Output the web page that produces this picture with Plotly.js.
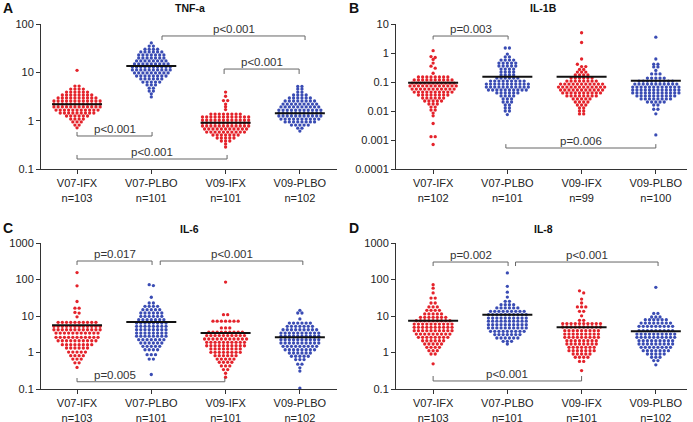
<!DOCTYPE html>
<html><head><meta charset="utf-8">
<script src="https://cdn.plot.ly/plotly-3.0.1.min.js"></script>
<style>html,body{margin:0;padding:0;background:#fff}#chart{width:693px;height:422px}</style>
</head><body><div id="chart"></div>
<script>
// ---------- categories and labels ----------
const groups = ['V07-IFX','V07-PLBO','V09-IFX','V09-PLBO'];
const nTNF = [103,101,101,102];
const nIL1B = [102,101,99,100];
const nIL6 = [103,101,101,102];
const nIL8 = [103,101,101,102];

// ---------- TNF-a values ----------
const tnfV07IFX = [11,
5.2,5.2, 4.5,4.5,4.5,4.5, 3.9,3.9,3.9,3.9,3.9,3.9,
3.4,3.4,3.4,3.4,3.4,3.4,3.4,3.4,
2.95,2.95,2.95,2.95,2.95,2.95,2.95,2.95,2.95,2.95,
2.55,2.55,2.55,2.55,2.55,2.55,2.55,2.55,2.55,2.55,2.55,2.55,
2.2,2.2,2.2,2.2,2.2,2.2,2.2,2.2,2.2,2.2,2.2,2.2,
1.92,1.92,1.92,1.92,1.92,1.92,1.92,1.92,1.92,1.92,1.92,1.92,
1.66,1.66,1.66,1.66,1.66,1.66,1.66,1.66,1.66,1.66,1.66,
1.44,1.44,1.44,1.44,1.44,1.44,1.44,1.44,1.44,
1.25,1.25,1.25,1.25,1.25,1.25, 1.08,1.08,1.08,1.08, 0.94,0.94,0.94, 0.81,0.81, 0.71];
const tnfV07PLBO = [40.5, 35,35, 30,30,30,30, 26.4,26.4,26.4,26.4,26.4,26.4,
22.9,22.9,22.9,22.9,22.9,22.9,22.9, 19.8,19.8,19.8,19.8,19.8,19.8,19.8,
17.2,17.2,17.2,17.2,17.2,17.2,17.2,17.2, 14.9,14.9,14.9,14.9,14.9,14.9,14.9,14.9,14.9,
12.9,12.9,12.9,12.9,12.9,12.9,12.9,12.9,12.9,12.9, 11.2,11.2,11.2,11.2,11.2,11.2,11.2,11.2,11.2,11.2,
9.7,9.7,9.7,9.7,9.7,9.7,9.7,9.7,9.7, 8.4,8.4,8.4,8.4,8.4,8.4,8.4,8.4,
7.3,7.3,7.3,7.3,7.3,7.3, 6.3,6.3,6.3,6.3,6.3, 5.5,5.5,5.5, 4.7,4.7, 4.1,4.1, 3.6, 3.1];
const tnfV09IFX = [3.9, 3.2, 2.6,2.6, 2.2, 1.95, 1.7,
1.37,1.37,1.37,1.37,1.37,1.37,1.37,1.37,
1.19,1.19,1.19,1.19,1.19,1.19,1.19,1.19,1.19,1.19,1.19,1.19,
1.03,1.03,1.03,1.03,1.03,1.03,1.03,1.03,1.03,1.03,1.03,1.03,
0.895,0.895,0.895,0.895,0.895,0.895,0.895,0.895,0.895,0.895,0.895,0.895,
0.776,0.776,0.776,0.776,0.776,0.776,0.776,0.776,0.776,0.776,0.776,0.776,
0.672,0.672,0.672,0.672,0.672,0.672,0.672,0.672,0.672,0.672,0.672,
0.582,0.582,0.582,0.582,0.582,0.582,0.582,0.582,0.582,0.582,
0.505,0.505,0.505,0.505,0.505,0.505,0.505, 0.438,0.438,0.438,0.438,0.438, 0.38,0.38,0.38, 0.33, 0.285];
const tnfV09PLBO = [5.1,5.1, 4.5,4.5, 3.9,3.9, 3.4,3.4,3.4,3.4, 2.95,2.95,2.95,2.95,2.95,2.95,
2.55,2.55,2.55,2.55,2.55,2.55,2.55,2.55, 2.2,2.2,2.2,2.2,2.2,2.2,2.2,2.2,2.2,
1.92,1.92,1.92,1.92,1.92,1.92,1.92,1.92,1.92,1.92,
1.66,1.66,1.66,1.66,1.66,1.66,1.66,1.66,1.66,1.66,1.66,
1.44,1.44,1.44,1.44,1.44,1.44,1.44,1.44,1.44,1.44,1.44,
1.25,1.25,1.25,1.25,1.25,1.25,1.25,1.25,1.25,1.25,1.25,
1.08,1.08,1.08,1.08,1.08,1.08,1.08,1.08,1.08,1.08,
0.94,0.94,0.94,0.94,0.94,0.94,0.94,0.94, 0.81,0.81,0.81,0.81,0.81, 0.70,0.70, 0.61];
const tnfMeans = [2.18, 13.5, 0.91, 1.42];

// ---------- IL-1B values ----------
const il1bV07IFX = [1.2, 0.75, 0.7, 0.6, 0.45, 0.35, 0.3, 0.2,
0.149,0.149,0.149,0.149,0.149,0.149,0.149,0.149,
0.117,0.117,0.117,0.117,0.117,0.117,0.117,0.117,0.117,0.117,
0.092,0.092,0.092,0.092,0.092,0.092,0.092,0.092,0.092,0.092,0.092,
0.073,0.073,0.073,0.073,0.073,0.073,0.073,0.073,0.073,0.073,0.073,0.073,
0.057,0.057,0.057,0.057,0.057,0.057,0.057,0.057,0.057,0.057,0.057,
0.045,0.045,0.045,0.045,0.045,0.045,0.045,0.045,0.045,0.045,
0.0356,0.0356,0.0356,0.0356,0.0356,0.0356,0.0356,0.0356,
0.028,0.028,0.028,0.028,0.028,0.028, 0.0221,0.0221,0.0221,0.0221,0.0221,
0.0174,0.0174,0.0174, 0.0137,0.0137, 0.0108,0.0108, 0.0085,
0.0068, 0.0037, 0.0013,0.0013, 0.0007];
const il1bV07PLBO = [1.49,1.49, 0.92, 0.73,0.73, 0.57,0.57,0.57,0.57, 0.45,0.45,0.45,0.45,0.45,
0.356,0.356,0.356,0.356,0.356, 0.28,0.28,0.28,0.28, 0.221,0.221,0.221,0.221, 0.174,0.174,0.174,0.174,
0.137,0.137,0.137,0.137,0.137,0.137, 0.108,0.108,0.108,0.108,0.108,0.108,0.108,0.108,0.108,
0.085,0.085,0.085,0.085,0.085,0.085,0.085,0.085,0.085,0.085,0.085,
0.067,0.067,0.067,0.067,0.067,0.067,0.067,0.067,0.067,0.067,0.067,
0.053,0.053,0.053,0.053,0.053,0.053,0.053,0.053,0.053,0.053,
0.042,0.042,0.042,0.042,0.042,0.042, 0.033,0.033,0.033,0.033, 0.026,0.026,0.026,
0.0204,0.0204,0.0204, 0.0161,0.0161, 0.0127,0.0127, 0.010,0.010, 0.0075];
const il1bV09IFX = [5.0, 2.3, 0.62, 0.41, 0.34,0.34, 0.27,0.27, 0.22,0.22,0.22, 0.174,0.174,0.174,0.174,
0.137,0.137,0.137,0.137,0.137,0.137, 0.108,0.108,0.108,0.108,0.108,0.108,0.108,0.108,
0.085,0.085,0.085,0.085,0.085,0.085,0.085,0.085,0.085,0.085,0.085,
0.067,0.067,0.067,0.067,0.067,0.067,0.067,0.067,0.067,0.067,0.067,0.067,
0.053,0.053,0.053,0.053,0.053,0.053,0.053,0.053,0.053,0.053,0.053,
0.042,0.042,0.042,0.042,0.042,0.042,0.042,0.042,0.042,0.042,
0.033,0.033,0.033,0.033,0.033,0.033,0.033,0.033, 0.026,0.026,0.026,0.026,0.026,
0.0204,0.0204,0.0204,0.0204, 0.0161,0.0161,0.0161, 0.0127,0.0127, 0.010,0.010, 0.0079,0.0079];
const il1bV09PLBO = [3.5, 0.62, 0.41,0.41, 0.33,0.33, 0.25, 0.19,0.19,0.19,
0.137,0.137,0.137,0.137,0.137, 0.108,0.108,0.108,0.108,0.108,0.108,0.108,0.108,0.108,
0.085,0.085,0.085,0.085,0.085,0.085,0.085,0.085,0.085,0.085,0.085,
0.067,0.067,0.067,0.067,0.067,0.067,0.067,0.067,0.067,0.067,0.067,0.067,
0.053,0.053,0.053,0.053,0.053,0.053,0.053,0.053,0.053,0.053,0.053,0.053,
0.042,0.042,0.042,0.042,0.042,0.042,0.042,0.042,0.042,0.042,0.042,0.042,
0.033,0.033,0.033,0.033,0.033,0.033,0.033,0.033,0.033,0.033,
0.026,0.026,0.026,0.026,0.026,0.026,0.026,0.026, 0.0204,0.0204,0.0204,0.0204,0.0204,
0.0161,0.0161, 0.0115,0.0115, 0.008, 0.0015];
const il1bMeans = [0.095, 0.153, 0.153, 0.111];

// ---------- IL-6 values ----------
const il6V07IFX = [155, 67, 25, 16.4,16.4, 12.5, 12, 9.5,
6.7,6.7,6.7,6.7,6.7,6.7,6.7,6.7,6.7,6.7,
5.2,5.2,5.2,5.2,5.2,5.2,5.2,5.2,5.2,5.2,5.2,5.2,
4.2,4.2,4.2,4.2,4.2,4.2,4.2,4.2,4.2,4.2,4.2,4.2,
3.4,3.4,3.4,3.4,3.4,3.4,3.4,3.4,3.4,3.4,3.4,
2.6,2.6,2.6,2.6,2.6,2.6,2.6,2.6,2.6,2.6,2.6,
2.1,2.1,2.1,2.1,2.1,2.1,2.1,2.1,2.1,2.1,
1.64,1.64,1.64,1.64,1.64,1.64,1.64,1.64, 1.33,1.33,1.33,1.33,1.33,1.33,
1.03,1.03,1.03,1.03,1.03, 0.82,0.82,0.82,0.82, 0.66,0.66,0.66, 0.52,0.52, 0.39];
const il6V07PLBO = [72, 68, 32.6, 22.7,22.7, 18.4,18.4,18.4,18.4, 14.9,14.9,14.9,14.9,14.9,
12.1,12.1,12.1,12.1,12.1,12.1, 9.8,9.8,9.8,9.8,9.8,9.8, 7.9,7.9,7.9,7.9,7.9,7.9,7.9,
6.4,6.4,6.4,6.4,6.4,6.4,6.4,6.4, 5.2,5.2,5.2,5.2,5.2,5.2,5.2,5.2,
4.2,4.2,4.2,4.2,4.2,4.2,4.2,4.2, 3.4,3.4,3.4,3.4,3.4,3.4,3.4,3.4,
2.8,2.8,2.8,2.8,2.8,2.8,2.8,2.8, 2.24,2.24,2.24,2.24,2.24,2.24,2.24,
1.82,1.82,1.82,1.82,1.82,1.82, 1.48,1.48,1.48,1.48,1.48, 1.19,1.19,1.19,1.19,
0.87,0.87,0.87, 0.66,0.66, 0.25];
const il6V09IFX = [85, 10.9,10.9, 7.2,7.2,7.2,7.2,7.2,7.2,7.2, 4.7,4.7,4.7,
3.6,3.6,3.6,3.6,3.6,3.6,3.6,3.6,3.6, 2.9,2.9,2.9,2.9,2.9,2.9,2.9,2.9,2.9,2.9,
2.34,2.34,2.34,2.34,2.34,2.34,2.34,2.34,2.34,2.34,2.34,
1.9,1.9,1.9,1.9,1.9,1.9,1.9,1.9,1.9,1.9, 1.53,1.53,1.53,1.53,1.53,1.53,1.53,1.53,1.53,1.53,
1.25,1.25,1.25,1.25,1.25,1.25,1.25,1.25, 1.01,1.01,1.01,1.01,1.01,1.01,1.01,1.01,
0.82,0.82,0.82,0.82,0.82,0.82, 0.66,0.66,0.66,0.66,0.66, 0.54,0.54,0.54,0.54,
0.43,0.43,0.43, 0.34,0.34, 0.27, 0.21];
const il6V09PLBO = [14.3, 12.1,12.1, 8.3, 6.4,6.4,6.4,6.4,6.4,6.4, 5.2,5.2,5.2,5.2,5.2,5.2,5.2,
4.2,4.2,4.2,4.2,4.2,4.2,4.2,4.2,4.2, 3.4,3.4,3.4,3.4,3.4,3.4,3.4,3.4,3.4,3.4,
2.8,2.8,2.8,2.8,2.8,2.8,2.8,2.8,2.8,2.8, 2.24,2.24,2.24,2.24,2.24,2.24,2.24,2.24,2.24,2.24,
1.82,1.82,1.82,1.82,1.82,1.82,1.82,1.82,1.82,1.82, 1.48,1.48,1.48,1.48,1.48,1.48,1.48,1.48,1.48,
1.19,1.19,1.19,1.19,1.19,1.19,1.19,1.19, 0.97,0.97,0.97,0.97,0.97,0.97,
0.79,0.79,0.79,0.79,0.79, 0.64,0.64,0.64, 0.48,0.48, 0.38, 0.31, 0.106];
const il6Means = [5.6, 6.9, 3.4, 2.6];

// ---------- IL-8 values ----------
const il8V07IFX = [72, 58, 43, 31,31, 22.7,22.7, 17.7,17.7,17.7, 14.3,14.3,14.3,14.3,
11.4,11.4,11.4,11.4,11.4, 9.2,9.2,9.2,9.2,9.2,9.2,9.2,
7.4,7.4,7.4,7.4,7.4,7.4,7.4,7.4,7.4, 6.0,6.0,6.0,6.0,6.0,6.0,6.0,6.0,6.0,6.0,
4.9,4.9,4.9,4.9,4.9,4.9,4.9,4.9,4.9,4.9, 3.95,3.95,3.95,3.95,3.95,3.95,3.95,3.95,3.95,3.95,
3.2,3.2,3.2,3.2,3.2,3.2,3.2,3.2,3.2, 2.6,2.6,2.6,2.6,2.6,2.6,2.6,2.6,
2.1,2.1,2.1,2.1,2.1,2.1, 1.71,1.71,1.71,1.71,1.71, 1.39,1.39,1.39,1.39,
1.12,1.12,1.12, 0.91,0.91, 0.49];
const il8V07PLBO = [151, 65, 45, 33, 25.3,25.3, 20.4,20.4,20.4,20.4, 16.6,16.6,16.6,16.6,16.6,16.6,
13.4,13.4,13.4,13.4,13.4,13.4,13.4,13.4,13.4, 10.9,10.9,10.9,10.9,10.9,10.9,10.9,10.9,10.9,10.9,
8.8,8.8,8.8,8.8,8.8,8.8,8.8,8.8,8.8,8.8, 7.2,7.2,7.2,7.2,7.2,7.2,7.2,7.2,7.2,7.2,
5.8,5.8,5.8,5.8,5.8,5.8,5.8,5.8,5.8,5.8, 4.7,4.7,4.7,4.7,4.7,4.7,4.7,4.7,4.7,4.7,
3.8,3.8,3.8,3.8,3.8,3.8,3.8,3.8,3.8, 3.1,3.1,3.1,3.1,3.1,3.1,3.1,
2.5,2.5,2.5,2.5,2.5,2.5, 2.03,2.03,2.03, 1.71];
const il8V09IFX = [49, 43, 29, 22.7, 17.7,17.7,17.7, 13.4,13.4, 10.1, 7.6,7.6,
6.2,6.2,6.2,6.2,6.2,6.2,6.2,6.2,6.2,6.2, 5.0,5.0,5.0,5.0,5.0,5.0,5.0,5.0,5.0,5.0,
3.95,3.95,3.95,3.95,3.95,3.95,3.95,3.95,3.95, 3.2,3.2,3.2,3.2,3.2,3.2,3.2,3.2,3.2,
2.6,2.6,2.6,2.6,2.6,2.6,2.6,2.6,2.6, 2.1,2.1,2.1,2.1,2.1,2.1,2.1,2.1,
1.71,1.71,1.71,1.71,1.71,1.71,1.71,1.71, 1.39,1.39,1.39,1.39,1.39,1.39,1.39,
1.12,1.12,1.12,1.12,1.12,1.12,1.12, 0.91,0.91,0.91,0.91,0.91, 0.74,0.74,0.74,0.74,
0.57,0.57, 0.32];
const il8V09PLBO = [61, 11.8,11.8, 9.4,9.4,9.4, 7.9,7.9,7.9,7.9,7.9,7.9, 6.4,6.4,6.4,6.4,6.4,6.4,6.4,6.4,
5.2,5.2,5.2,5.2,5.2,5.2,5.2,5.2,5.2, 3.95,3.95,3.95,3.95,3.95,3.95,3.95,3.95,3.95,
3.2,3.2,3.2,3.2,3.2,3.2,3.2,3.2,3.2,3.2, 2.6,2.6,2.6,2.6,2.6,2.6,2.6,2.6,2.6,2.6,
2.1,2.1,2.1,2.1,2.1,2.1,2.1,2.1,2.1, 1.71,1.71,1.71,1.71,1.71,1.71,1.71,1.71,1.71,
1.39,1.39,1.39,1.39,1.39,1.39,1.39,1.39, 1.12,1.12,1.12,1.12,1.12,1.12,1.12,
0.91,0.91,0.91,0.91,0.91, 0.74,0.74,0.74, 0.6,0.6, 0.46];
const il8Means = [7.4, 10.9, 4.9, 3.8];

// ---------- p-value labels ----------
const pTNF = ['p<0.001','p<0.001','p<0.001','p<0.001'];
const pIL1B = ['p=0.003','p=0.006'];
const pIL6 = ['p=0.017','p<0.001','p=0.005'];
const pIL8 = ['p=0.002','p<0.001','p<0.001'];

// ---------- layout geometry (pixels / positions) ----------
const W = 693, H = 422;
const RED = '#e4232b', BLUE = '#3a4cb4';
const FONT = 'Liberation Sans, Arial, Helvetica, sans-serif';

const panels = [
  {title:'TNF-a', letter:'A', n:nTNF, sets:[tnfV07IFX,tnfV07PLBO,tnfV09IFX,tnfV09PLBO], means:tnfMeans,
   px:[41,337], py:[24,169], xr:[-0.485,3.5], yr:[-1,2],
   tv:[0.1,1,10,100], tt:['0.1','1','10','100'], titleXY:[190,8], letterXY:[1,8],
   br:[{x:[1.144,3.07], y:56.5, t:46.7, p:pTNF[0]},
       {x:[1.98,2.99], y:11.7, t:9.25, p:pTNF[1]},
       {x:[0,1.01], y:0.482, t:0.583, p:pTNF[2]},
       {x:[0,2.02], y:0.161, t:0.195, p:pTNF[3]}]},
  {title:'IL-1B', letter:'B', n:nIL1B, sets:[il1bV07IFX,il1bV07PLBO,il1bV09IFX,il1bV09PLBO], means:il1bMeans,
   px:[396,687], py:[24,169], xr:[-0.5,3.42], yr:[-4,1],
   tv:[0.0001,0.001,0.01,0.1,1,10], tt:['0.0001','0.001','0.01','0.1','1','10'], titleXY:[543,8], letterXY:[347,8],
   br:[{x:[0,1.01], y:3.85, t:2.92, p:pIL1B[0]},
       {x:[0.98,3.0], y:0.00053, t:0.00072, p:pIL1B[1]}]},
  {title:'IL-6', letter:'C', n:nIL6, sets:[il6V07IFX,il6V07PLBO,il6V09IFX,il6V09PLBO], means:il6Means,
   px:[41,337], py:[243,389], xr:[-0.485,3.5], yr:[-1,3],
   tv:[0.1,1,10,100,1000], tt:['0.1','1','10','100','1000'], titleXY:[189,229], letterXY:[1,228],
   br:[{x:[0,1.01], y:321, t:250, p:pIL6[0]},
       {x:[1.12,3.04], y:321, t:250, p:pIL6[1]},
       {x:[0,1.99], y:0.158, t:0.2, p:pIL6[2], tx:0.51}]},
  {title:'IL-8', letter:'D', n:nIL8, sets:[il8V07IFX,il8V07PLBO,il8V09IFX,il8V09PLBO], means:il8Means,
   px:[396,687], py:[243,389], xr:[-0.5,3.42], yr:[-1,3],
   tv:[0.1,1,10,100,1000], tt:['0.1','1','10','100','1000'], titleXY:[543,229], letterXY:[347,228],
   br:[{x:[0,1.01], y:301, t:234, p:pIL8[0]},
       {x:[1.11,3.03], y:301, t:234, p:pIL8[1]},
       {x:[0,2.0], y:0.166, t:0.227, p:pIL8[2]}]}
];

const DOT = 3.3;      // marker diameter px
const STEP = 4.2;     // horizontal spacing px within a row
const ROWTOL = 2.5;   // px: points closer than this share a row
const HALF = 25;      // mean line half width px

const traces = [];
const layout = {
  width: W, height: H, margin: {l:0, r:0, t:0, b:0},
  paper_bgcolor: '#fff', plot_bgcolor: '#fff', showlegend: false,
  font: {family: FONT, size: 11, color: '#222'},
  annotations: []
};

panels.forEach((P, pi) => {
  const xa = pi === 0 ? 'x' : 'x' + (pi + 1);
  const ya = pi === 0 ? 'y' : 'y' + (pi + 1);
  const xk = pi === 0 ? 'xaxis' : 'xaxis' + (pi + 1);
  const yk = pi === 0 ? 'yaxis' : 'yaxis' + (pi + 1);
  const pxPerUnit = (P.px[1] - P.px[0]) / (P.xr[1] - P.xr[0]);
  const pxPerDec = (P.py[1] - P.py[0]) / (P.yr[1] - P.yr[0]);

  layout[xk] = {
    domain: [P.px[0] / W, P.px[1] / W], range: P.xr, anchor: ya,
    tickmode: 'array', tickvals: [0,1,2,3],
    ticktext: groups.map((g, i) => g + '<br>n=' + P.n[i]),
    ticks: 'outside', ticklen: 4, tickcolor: '#333', tickwidth: 1,
    showline: true, linecolor: '#333', linewidth: 1,
    showgrid: false, zeroline: false, fixedrange: true,
    tickfont: {family: FONT, size: 11, color: '#222'}
  };
  layout[yk] = {
    domain: [1 - P.py[1] / H, 1 - P.py[0] / H], type: 'log', range: P.yr, anchor: xa,
    tickmode: 'array', tickvals: P.tv, ticktext: P.tt,
    ticks: 'outside', ticklen: 4, tickcolor: '#333', tickwidth: 1,
    showline: true, linecolor: '#333', linewidth: 1,
    showgrid: false, zeroline: false, fixedrange: true,
    tickfont: {family: FONT, size: 11, color: '#222'}
  };

  // swarm points: group near-equal values into rows, spread each row sideways
  P.sets.forEach((vals, gi) => {
    const pts = vals.map(v => ({v, py: Math.log10(v) * pxPerDec})).sort((a, b) => b.py - a.py);
    const rows = [];
    pts.forEach(p => {
      const r = rows[rows.length - 1];
      if (r && Math.abs(r.start - p.py) <= ROWTOL) r.items.push(p);
      else rows.push({start: p.py, items: [p]});
    });
    const xs = [], ys = [];
    rows.forEach(r => {
      const n = r.items.length;
      r.items.forEach((p, i) => {
        xs.push(gi + ((i - (n - 1) / 2) * STEP) / pxPerUnit);
        ys.push(p.v);
      });
    });
    traces.push({
      type: 'scatter', mode: 'markers', x: xs, y: ys, xaxis: xa, yaxis: ya,
      marker: {size: DOT, color: gi % 2 === 0 ? RED : BLUE, line: {width: 0}},
      hoverinfo: 'skip'
    });
  });

  // mean lines
  const mx = [], my = [];
  P.means.forEach((m, gi) => {
    mx.push(gi - HALF / pxPerUnit, gi + HALF / pxPerUnit, null);
    my.push(m, m, null);
  });
  traces.push({type: 'scatter', mode: 'lines', x: mx, y: my, xaxis: xa, yaxis: ya,
    line: {color: '#111', width: 2}, hoverinfo: 'skip'});

  // brackets
  const bx = [], by = [];
  P.br.forEach(b => {
    bx.push(b.x[0], b.x[0], b.x[1], b.x[1], null);
    by.push(b.t, b.y, b.y, b.t, null);
    layout.annotations.push({
      xref: xa, yref: ya, x: b.tx !== undefined ? b.tx : (b.x[0] + b.x[1]) / 2, y: Math.log10(b.y),
      text: b.p, showarrow: false, xanchor: 'center', yanchor: 'bottom', yshift: -1,
      font: {family: FONT, size: 11.5, color: '#333'}
    });
  });
  traces.push({type: 'scatter', mode: 'lines', x: bx, y: by, xaxis: xa, yaxis: ya,
    line: {color: '#666', width: 1}, hoverinfo: 'skip'});

  // panel title and letter
  layout.annotations.push({
    xref: 'paper', yref: 'paper', x: P.titleXY[0] / W, y: 1 - P.titleXY[1] / H,
    text: '<b>' + P.title + '</b>', showarrow: false, xanchor: 'center', yanchor: 'middle',
    font: {family: FONT, size: 10.5, color: '#111'}
  });
  layout.annotations.push({
    xref: 'paper', yref: 'paper', x: P.letterXY[0] / W, y: 1 - P.letterXY[1] / H,
    text: '<b>' + P.letter + '</b>', showarrow: false, xanchor: 'left', yanchor: 'middle',
    font: {family: FONT, size: 14, color: '#111'}
  });
});

Plotly.newPlot('chart', traces, layout, {displayModeBar: false, staticPlot: true});
</script>
</body></html>
